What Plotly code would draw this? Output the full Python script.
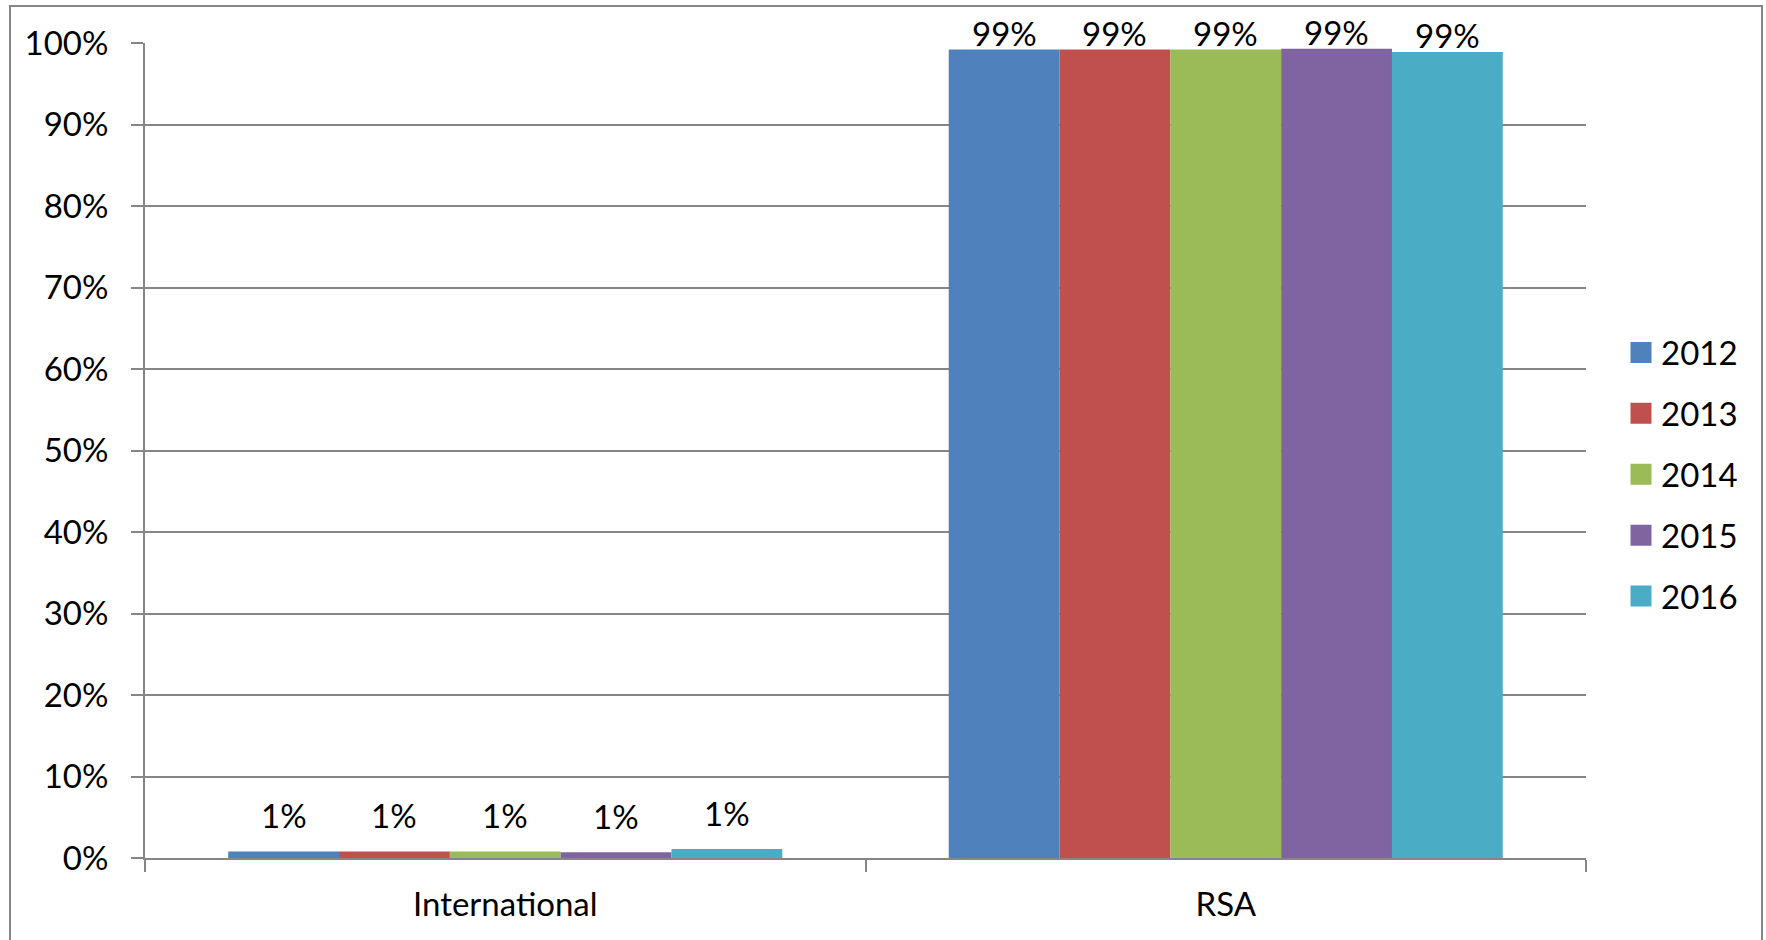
import plotly.graph_objects as go

categories = ["International", "RSA"]
years = ["2012", "2013", "2014", "2015", "2016"]
values_2012 = [0.008, 0.992]
values_2013 = [0.008, 0.992]
values_2014 = [0.008, 0.992]
values_2015 = [0.007, 0.993]
values_2016 = [0.011, 0.989]
labels_2012 = ["1%", "99%"]
labels_2013 = ["1%", "99%"]
labels_2014 = ["1%", "99%"]
labels_2015 = ["1%", "99%"]
labels_2016 = ["1%", "99%"]
colors = ["#4F81BD", "#C0504D", "#9BBB59", "#8064A2", "#4BACC6"]
y_ticks = [0, 0.1, 0.2, 0.3, 0.4, 0.5, 0.6, 0.7, 0.8, 0.9, 1.0]
y_ticklabels = ["0%", "10%", "20%", "30%", "40%", "50%", "60%", "70%", "80%", "90%", "100%"]

series = [values_2012, values_2013, values_2014, values_2015, values_2016]
labels = [labels_2012, labels_2013, labels_2014, labels_2015, labels_2016]

FONT = "Lato"
FS = 33
W, H = 1766, 940
L, R, T, B = 145, 180, 43, 82
BARGAP = 0.231
GRID = "#868686"
LABEL_YSHIFT = [14, -5]  # label gap above bar, per category (pixels)

pw = W - L - R
ph = H - T - B
n = len(years)
bar_px = pw / len(categories) * (1 - BARGAP) / n

fig = go.Figure()
annotations = []
for i, (yr, vals, lab, col) in enumerate(zip(years, series, labels, colors)):
    fig.add_trace(go.Bar(
        name=yr, x=categories, y=vals,
        marker=dict(color=col, line=dict(width=0)),
        cliponaxis=False, showlegend=False,
    ))
    # legend-only entry with a larger square swatch
    fig.add_trace(go.Scatter(
        name=yr, x=[None], y=[None], mode="markers",
        marker=dict(symbol="square", size=16, color=col, line=dict(color=col, width=5)),
        legendgroup=yr, showlegend=True, hoverinfo="skip",
    ))
    for j, cat in enumerate(categories):
        annotations.append(dict(
            x=cat, y=vals[j], xref="x", yref="y", text=lab[j],
            showarrow=False, yanchor="bottom", xanchor="center",
            xshift=(i - (n - 1) / 2) * bar_px, yshift=LABEL_YSHIFT[j],
            font=dict(family=FONT, size=FS, color="#000000"),
        ))

fig.update_layout(
    width=W, height=H,
    margin=dict(l=L, r=R, t=T, b=B, pad=0),
    paper_bgcolor="white", plot_bgcolor="white",
    barmode="group", bargap=BARGAP, bargroupgap=0,
    font=dict(family=FONT, size=FS, color="#000000"),
    showlegend=True,
    legend=dict(
        x=(1621 - L) / pw, xanchor="left",
        y=(H - B - 474.5) / ph, yanchor="middle",
        font=dict(family=FONT, size=FS, color="#000000"),
        tracegroupgap=15, bgcolor="rgba(0,0,0,0)", itemsizing="trace",
    ),
    xaxis=dict(
        type="category", showgrid=False, showline=True, linecolor=GRID, linewidth=2,
        ticks="outside", tickson="boundaries", ticklen=12, tickwidth=2, tickcolor=GRID,
        ticklabelstandoff=16, tickfont=dict(family=FONT, size=FS, color="#000000"),
        zeroline=False,
    ),
    yaxis=dict(
        range=[0, 1], tickvals=y_ticks, ticktext=y_ticklabels,
        showgrid=True, gridcolor=GRID, gridwidth=2,
        showline=True, linecolor=GRID, linewidth=2,
        ticks="outside", ticklen=12, tickwidth=2, tickcolor=GRID,
        ticklabelstandoff=16, tickfont=dict(family=FONT, size=FS, color="#000000"),
        zeroline=False,
    ),
    annotations=annotations,
    shapes=[dict(
        type="rect", xref="paper", yref="paper",
        x0=(10 - L) / pw, x1=(1762 - L) / pw,
        y0=(H - B - 950) / ph, y1=(H - B - 6) / ph,
        line=dict(color=GRID, width=2), fillcolor="rgba(0,0,0,0)", layer="below",
    )],
)

fig.write_html("out.html", config={"displayModeBar": False},
               post_script="document.body.style.margin='0';")
